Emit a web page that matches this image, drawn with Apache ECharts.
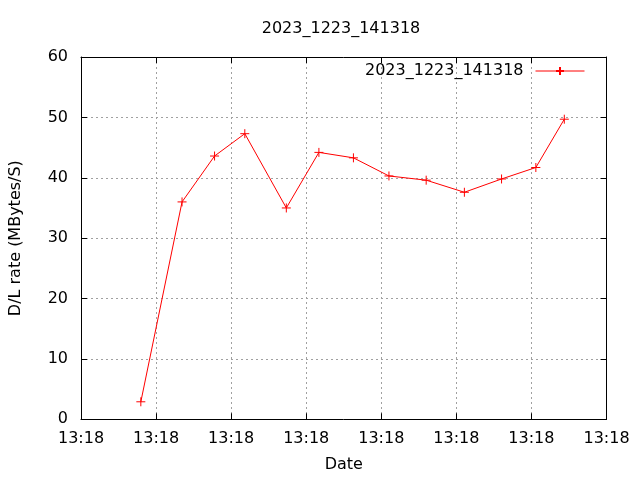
<!DOCTYPE html>
<html>
<head>
<meta charset="utf-8">
<script src="https://cdn.jsdelivr.net/npm/echarts@6/dist/echarts.min.js"></script>
<style>html,body{margin:0;padding:0;background:#fff;}#c{width:640px;height:480px;}</style>
</head>
<body>
<div id="c"></div>
<script>
const titleText = '2023_1223_141318';
const seriesName = '2023_1223_141318';
const xValues = [0.797, 1.346, 1.779, 2.182, 2.735, 3.169, 3.629, 4.102, 4.598, 5.107, 5.602, 6.059, 6.438];
const yValues = [2.9, 36.0, 43.6, 47.3, 35.0, 44.2, 43.3, 40.3, 39.6, 37.6, 39.8, 41.7, 49.7];
const xTickLabel = '13:18';
const xLabel = 'Date';
const yLabel = 'D/L rate (MBytes/S)';

const font = 'DejaVu Sans';
const chart = echarts.init(document.getElementById('c'), null, {renderer: 'canvas'});
const gridLine = {show: true, lineStyle: {color: '#a0a0a0', type: [2, 3], width: 1}};
const tick = {show: true, inside: true, length: 6, lineStyle: {color: '#000', width: 1}};
const axisLine = {show: true, onZero: false, lineStyle: {color: '#000', width: 1}};
chart.setOption({
  backgroundColor: '#fff',
  animation: false,
  title: {
    text: titleText, left: 336, top: 16, textAlign: 'center',
    textStyle: {fontFamily: font, fontSize: 16, fontWeight: 'normal', color: '#000'}
  },
  legend: {
    right: 50, top: 58, align: 'right', itemWidth: 49, itemHeight: 10, itemGap: 0,
    lineStyle: {width: 1},
    textStyle: {fontFamily: font, fontSize: 16, color: '#000', padding: [0, 7, 0, 0]},
    data: [seriesName]
  },
  grid: {left: 79, right: 33.5, top: 57, bottom: 60.7, containLabel: false},
  xAxis: [{
    type: 'value', min: 0, max: 7, interval: 1,
    name: xLabel, nameLocation: 'middle', nameGap: 38,
    nameTextStyle: {fontFamily: font, fontSize: 16, color: '#000'},
    axisLine: axisLine, axisTick: tick, splitLine: gridLine,
    axisLabel: {fontFamily: font, fontSize: 16, color: '#000', margin: 12, formatter: () => xTickLabel, showMinLabel: true, showMaxLabel: true}
  }, {
    type: 'value', position: 'top', min: 0, max: 7, interval: 1,
    axisLine: axisLine, axisTick: tick, splitLine: {show: false}, axisLabel: {show: false}
  }],
  yAxis: [{
    type: 'value', min: 0, max: 60, interval: 10,
    name: yLabel, nameLocation: 'middle', nameGap: 57, nameRotate: 90,
    nameTextStyle: {fontFamily: font, fontSize: 16, color: '#000'},
    axisLine: axisLine, axisTick: tick, splitLine: gridLine,
    axisLabel: {fontFamily: font, fontSize: 16, color: '#000', margin: 13}
  }, {
    type: 'value', position: 'right', min: 0, max: 60, interval: 10,
    axisLine: axisLine, axisTick: tick, splitLine: {show: false}, axisLabel: {show: false}
  }],
  series: [{
    name: seriesName, type: 'line',
    data: xValues.map((x, i) => [x, yValues[i]]),
    symbol: 'path://M0,5 L10,5 M5,0 L5,10', symbolSize: 9,
    itemStyle: {color: '#ff0000', borderColor: '#ff0000', borderWidth: 1},
    lineStyle: {color: '#ff0000', width: 1},
    emphasis: {disabled: true}
  }]
});
</script>
</body>
</html>
